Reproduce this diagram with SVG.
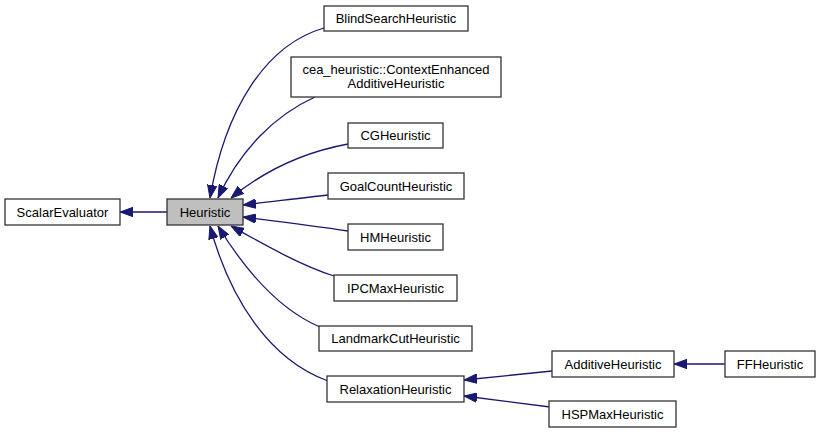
<svg xmlns="http://www.w3.org/2000/svg" width="821" height="433" viewBox="0 0 821 433">
<style>
.n rect{fill:#ffffff;stroke:#333333;stroke-width:1.3}
.n.h rect{fill:#bfbfbf}
.n text{font-family:"Liberation Sans",Arial,sans-serif;font-size:13px;fill:#000;text-anchor:middle}
.e path{fill:none;stroke:#191970;stroke-width:1.3;marker-end:url(#arr)}
</style>
<defs>
<marker id="arr" markerUnits="userSpaceOnUse" viewBox="0 -5 13 10" refX="13" refY="0" markerWidth="13" markerHeight="10" orient="auto">
<path d="M0,-4.7 L13,0 L0,4.7 z" fill="#191970" stroke="#191970" stroke-width="1"/>
</marker>
</defs>
<rect width="821" height="433" fill="#ffffff"/>
<g id="edges" class="e">
<path d="M167,212 L120,212"/>
<path d="M324,28 C265,45 225,110 210,198"/>
<path d="M315,97 C275,115 240,150 218,198"/>
<path d="M348,144 C305,152 265,170 231,198"/>
<path d="M328,195 C300,198 270,202 243,205"/>
<path d="M348,231 C315,226 275,221 243,217"/>
<path d="M334,276 C300,265 265,245 231,226"/>
<path d="M320,327 C280,310 245,270 218,226"/>
<path d="M328,381 C270,360 230,300 210,226"/>
<path d="M552,371 L464,380"/>
<path d="M550,407 L464,396"/>
<path d="M725,364 L674,364"/>
</g>
<g id="ScalarEvaluator" class="n"><rect x="5" y="199" width="115" height="26"/><text x="62.5" y="216.5">ScalarEvaluator</text></g>
<g id="Heuristic" class="n h"><rect x="167" y="199" width="76" height="26"/><text x="205" y="216.5">Heuristic</text></g>
<g id="BlindSearchHeuristic" class="n"><rect x="324" y="6" width="144" height="25"/><text x="396" y="23">BlindSearchHeuristic</text></g>
<g id="ContextEnhancedAdditiveHeuristic" class="n"><rect x="291" y="57" width="210" height="40"/><text x="396" y="74">cea_heuristic::ContextEnhanced</text><text x="396" y="88">AdditiveHeuristic</text></g>
<g id="CGHeuristic" class="n"><rect x="348" y="123" width="95" height="25"/><text x="395.5" y="140">CGHeuristic</text></g>
<g id="GoalCountHeuristic" class="n"><rect x="328" y="173" width="136" height="26"/><text x="396" y="190.5">GoalCountHeuristic</text></g>
<g id="HMHeuristic" class="n"><rect x="348" y="224" width="95" height="26"/><text x="395.5" y="241.5">HMHeuristic</text></g>
<g id="IPCMaxHeuristic" class="n"><rect x="334" y="275" width="123" height="26"/><text x="395.5" y="292.5">IPCMaxHeuristic</text></g>
<g id="LandmarkCutHeuristic" class="n"><rect x="319" y="326" width="153" height="25"/><text x="395.5" y="343">LandmarkCutHeuristic</text></g>
<g id="RelaxationHeuristic" class="n"><rect x="327" y="376" width="137" height="26"/><text x="395.5" y="393.5">RelaxationHeuristic</text></g>
<g id="AdditiveHeuristic" class="n"><rect x="552" y="351" width="122" height="26"/><text x="613" y="368.5">AdditiveHeuristic</text></g>
<g id="FFHeuristic" class="n"><rect x="725" y="351" width="90" height="26"/><text x="770" y="368.5">FFHeuristic</text></g>
<g id="HSPMaxHeuristic" class="n"><rect x="549" y="401" width="127" height="26"/><text x="612.5" y="418.5">HSPMaxHeuristic</text></g>
</svg>
